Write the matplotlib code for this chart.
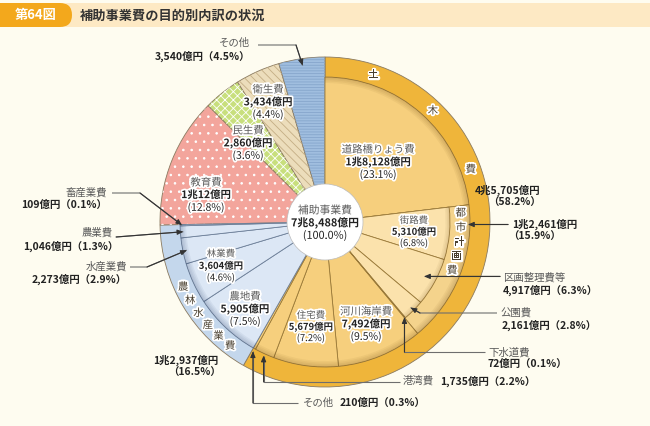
import numpy as np
import matplotlib.pyplot as plt
import matplotlib.patheffects as pe
from matplotlib.patches import FancyBboxPatch, Circle

plt.rcParams['font.family'] = ['Noto Sans CJK JP', 'DejaVu Sans']
plt.rcParams['hatch.linewidth'] = 0.6

# values in 億円
group_names = ['土木費', '農林水産業費', '教育費', '民生費', '衛生費', 'その他']
group_vals = [45705, 12937, 10012, 2860, 3434, 3540]
group_pcts = [58.2, 16.5, 12.8, 3.6, 4.4, 4.5]

doboku_names = ['道路橋りょう費', '都市計画費', '河川海岸費', '住宅費', '港湾費', 'その他']
doboku_vals = [18128, 12461, 7492, 5679, 1735, 210]
doboku_pcts = [23.1, 15.9, 9.5, 7.2, 2.2, 0.3]

toshi_names = ['街路費', '区画整理費等', '公園費', '下水道費']
toshi_vals = [5310, 4917, 2161, 72]
toshi_pcts = [6.8, 6.3, 2.8, 0.1]

norin_names = ['農地費', '林業費', '水産業費', '農業費', '畜産業費']
norin_vals = [5905, 3604, 2273, 1046, 109]
norin_pcts = [7.5, 4.6, 2.9, 1.3, 0.1]

total_name = '補助事業費'
total = 78488

CX, CY = 325, 222
R_OUT, R_MID, R_TOSHI, R_HOLE = 165, 145, 125, 38
BG = '#FEFCF0'


def oku(v):
    if v >= 10000:
        return f'{v // 10000}兆{v % 10000:,}億円'
    return f'{v:,}億円'


def polar(cw, r):
    a = np.deg2rad(90 - cw)
    return CX + r * np.cos(a), CY - r * np.sin(a)


def mids(vals, offset):
    c = np.cumsum([offset] + list(vals))
    return 360 * (c[:-1] + c[1:]) / 2 / total


fig = plt.figure(figsize=(6.5, 4.26), dpi=100, facecolor=BG)
ax = fig.add_axes([0, 0, 1, 1])
ax.set_facecolor(BG)

pie_kw = dict(center=(CX, CY), startangle=-90, counterclock=True)

# outer pie (groups)
outer_cols = ['#EFB53A', '#C4D7EC', '#F3A59C', '#C8DF7D', '#ECDDBB', '#A0BEDF']
w_out, _ = ax.pie(group_vals, radius=R_OUT, colors=outer_cols,
                  wedgeprops=dict(edgecolor='#8a7a60', linewidth=0.6), **pie_kw)

# patterns
hatches = ['', '', '..', 'xxxx', '\\\\\\\\', '------']
hcols = ['none', 'none', 'white', 'white', '#C4AE84', '#86A6CC']
w_h, _ = ax.pie(group_vals, radius=R_OUT, colors=['none'] * 6,
                wedgeprops=dict(linewidth=0), **pie_kw)
for w, h, c in zip(w_h, hatches, hcols):
    if h:
        w.set_hatch(h)
        w.set_edgecolor(c)
        w.set_linewidth(0)

# middle pie: 土木 / 農林 breakdown
mid_vals = doboku_vals + norin_vals + group_vals[2:]
mid_cols = (['#F6CF7D', '#F4D38C'] + ['#F6CF7D'] * 4 + ['#DCE7F5'] * 5 + ['none'] * 4)
w_mid, _ = ax.pie(mid_vals, radius=R_MID, colors=mid_cols,
                  wedgeprops=dict(linewidth=0.6), **pie_kw)
for i, w in enumerate(w_mid):
    if i < 6:
        w.set_edgecolor('#9a7a3a')
    elif i < 11:
        w.set_edgecolor('#6d7f98')
    else:
        w.set_edgecolor('none')

# shadow inside the group rings
for k in range(4):
    sh_cols = [(0.35, 0.2, 0, 0.05), (0, 0.1, 0.3, 0.05)] + ['none'] * 4
    ax.pie(group_vals, radius=R_MID, colors=sh_cols,
           wedgeprops=dict(width=1.5 * (k + 1), linewidth=0), **pie_kw)

# inner pie: 都市計画 breakdown
toshi_all = [doboku_vals[0]] + toshi_vals + [total - doboku_vals[0] - sum(toshi_vals)]
toshi_cols = ['none'] + ['#FBE2AC'] * 4 + ['none']
w_t, _ = ax.pie(toshi_all, radius=R_TOSHI, colors=toshi_cols,
                wedgeprops=dict(linewidth=0.6), **pie_kw)
for i, w in enumerate(w_t):
    w.set_edgecolor('#9a7a3a' if 0 < i < 5 else 'none')
for k in range(3):
    sh_cols = ['none', (0.35, 0.2, 0, 0.05), (0.35, 0.2, 0, 0.05),
               (0.35, 0.2, 0, 0.05), (0.35, 0.2, 0, 0.05), 'none']
    ax.pie(toshi_all, radius=R_TOSHI, colors=sh_cols,
           wedgeprops=dict(width=1.5 * (k + 1), linewidth=0), **pie_kw)

ax.add_patch(Circle((CX, CY), R_HOLE, facecolor='white', edgecolor='#bbbbbb', linewidth=0.5, zorder=5))

ax.set_xlim(0, 650)
ax.set_ylim(426, 0)
ax.set_aspect('auto')
ax.axis('off')

halo = [pe.withStroke(linewidth=2.5, foreground='white')]
NAME_C, VAL_C = '#5a5a5a', '#222222'


def label3(x, y, name, val, pct, fs=7.5, dy=12.5):
    ax.text(x, y - dy, name, color=NAME_C, fontsize=fs, ha='center', va='center', path_effects=halo, zorder=10)
    ax.text(x, y, val, color=VAL_C, fontsize=fs, ha='center', va='center', fontweight='bold',
            path_effects=halo, zorder=10)
    ax.text(x, y + dy, f'({pct}%)', color=VAL_C, fontsize=fs, ha='center', va='center',
            path_effects=halo, zorder=10)


label3(325, 223, total_name, oku(total), '100.0', fs=7.8)
label3(378, 162, doboku_names[0], oku(doboku_vals[0]), doboku_pcts[0])
label3(414, 232, toshi_names[0], oku(toshi_vals[0]), toshi_pcts[0], fs=6.8, dy=11.5)
label3(366, 324, doboku_names[2], oku(doboku_vals[2]), doboku_pcts[2])
label3(311, 327, doboku_names[3], oku(doboku_vals[3]), doboku_pcts[3], fs=6.8, dy=11.5)
label3(245, 309, norin_names[0], oku(norin_vals[0]), norin_pcts[0])
label3(221, 266, norin_names[1], oku(norin_vals[1]), norin_pcts[1], fs=6.8, dy=12)
label3(206, 195, group_names[2], oku(group_vals[2]), group_pcts[2])
label3(248, 143, group_names[3], oku(group_vals[3]), group_pcts[3])
label3(268, 102, group_names[4], oku(group_vals[4]), group_pcts[4])

# ring captions
ring_kw = dict(color='#4a4030', fontsize=7.5, ha='center', va='center', path_effects=halo, zorder=10)
for i, ch in enumerate(group_names[0]):
    ax.text(*polar(18.1 + 26.0 * i, 155), ch, **ring_kw)
for i, ch in enumerate(doboku_names[1]):
    ax.text(*polar(86.2 + 6.15 * i, 136), ch, **ring_kw)
for i, ch in enumerate(group_names[1]):
    ax.text(*polar(245.4 - 5.58 * i, 156), ch, **ring_kw)

# outside labels
def out_text(x, y, s, ha, name=False):
    ax.text(x, y, s, color=NAME_C if name else VAL_C, fontsize=7.5, ha=ha, va='center',
            fontweight='normal' if name else 'bold', zorder=10)


LINE_C = '#6e6e6e'


def leader(points):
    xs, ys = zip(*points)
    ax.plot(xs, ys, color=LINE_C, lw=0.8, zorder=9, solid_capstyle='butt')
    ax.annotate('', xy=points[-1], xytext=points[-2],
                arrowprops=dict(arrowstyle='-|>,head_length=0.35,head_width=0.15',
                                color='#333333', lw=0.8, shrinkA=0, shrinkB=0), zorder=9)


gm = mids(group_vals, 0)
dm = mids(doboku_vals, 0)
tm = mids(toshi_vals, doboku_vals[0])
nm = mids(norin_vals, group_vals[0])

# その他 (top)
out_text(250, 43, group_names[5], 'right', name=True)
out_text(250, 56, f'{oku(group_vals[5])}（{group_pcts[5]}%）', 'right')
tip = polar(gm[5], 158)
leader([(258, 45), (296, 45), tip])

# 土木 total
out_text(540, 190, oku(group_vals[0]), 'right')
out_text(541, 203, f'（{group_pcts[0]}%）', 'right')

# 都市計画
tip = polar(91, 143)
out_text(512, 224, oku(doboku_vals[1]), 'left')
out_text(508, 237, f'（{doboku_pcts[1]}%）', 'left')
leader([(508, tip[1]), tip])

# 区画整理
tip = polar(tm[1], 113)
out_text(503, 278, toshi_names[1], 'left', name=True)
out_text(503, 290, f'{oku(toshi_vals[1])}（{toshi_pcts[1]}%）', 'left')
leader([(500, tip[1]), tip])

# 公園
tip = polar(tm[2], 121)
out_text(500, 313, toshi_names[2], 'left', name=True)
out_text(502, 325, f'{oku(toshi_vals[2])}（{toshi_pcts[2]}%）', 'left')
leader([(497, 313), (420, 313), tip])

# 下水道
tip = polar(tm[3], 124)
out_text(488, 352, toshi_names[3], 'left', name=True)
out_text(488, 364, f'{oku(toshi_vals[3])}（{toshi_pcts[3]}%）', 'left')
leader([(485, 352), (tip[0], 352), tip])

# 港湾
tip = polar(dm[4], 147)
out_text(403, 381, doboku_names[4], 'left', name=True)
out_text(440, 381, f'{oku(doboku_vals[4])}（{doboku_pcts[4]}%）', 'left')
leader([(400, 382), (tip[0], 382), tip])

# その他 (土木)
tip = polar(dm[5], 148)
out_text(303, 403, doboku_names[5], 'left', name=True)
out_text(340, 403, f'{oku(doboku_vals[5])}（{doboku_pcts[5]}%）', 'left')
leader([(298, 403), (tip[0], 403), tip])

# 農林 total
out_text(218, 360, oku(group_vals[1]), 'right')
out_text(221, 373, f'（{group_pcts[1]}%）', 'right')

# 畜産業
tip = polar(nm[4], 143)
out_text(107, 193, norin_names[4], 'right', name=True)
out_text(107, 205, f'{oku(norin_vals[4])}（{norin_pcts[4]}%）', 'right')
leader([(112, 193), (140, 193), tip])

# 農業
tip = polar(nm[3], 142)
out_text(113, 233, norin_names[3], 'right', name=True)
out_text(118, 246, f'{oku(norin_vals[3])}（{norin_pcts[3]}%）', 'right')
leader([(116, 237), tip])

# 水産業
tip = polar(nm[2], 141)
out_text(127, 267, norin_names[2], 'right', name=True)
out_text(127, 279, f'{oku(norin_vals[2])}（{norin_pcts[2]}%）', 'right')
leader([(130, 267), (147, 267), tip])

# header
ax.add_patch(FancyBboxPatch((55, 3), 620, 24, boxstyle='round,pad=0,rounding_size=12',
                            facecolor='#FDE9C4', edgecolor='none', zorder=1))
ax.add_patch(FancyBboxPatch((-30, 3), 102, 24, boxstyle='round,pad=0,rounding_size=12',
                            facecolor='#F3A81C', edgecolor='none', zorder=2))
ax.text(36, 15.5, '第64図', color='white', fontsize=9.5, ha='center', va='center', fontweight='bold', zorder=3)
ax.text(80, 15.5, '補助事業費の目的別内訳の状況', color='#333333', fontsize=9.5, ha='left', va='center',
        fontweight='bold', zorder=3)

fig.savefig('out.png', dpi=100, facecolor=BG)
